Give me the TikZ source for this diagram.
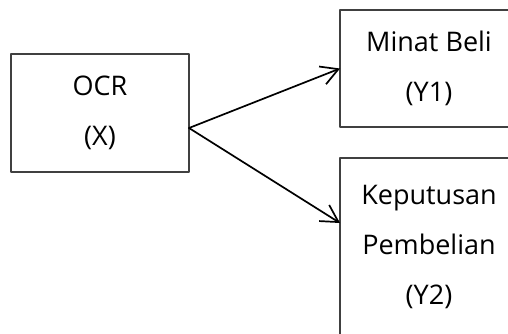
\documentclass[tikz,border=0pt]{standalone}
\usepackage{fontspec}
\setmainfont{Open Sans}
\usetikzlibrary{arrows.meta}
\begin{document}
\begin{tikzpicture}[x=1pt, y=-1pt, line join=round, line cap=round,
	varbox/.style={draw=black!75, line width=1.3pt, minimum width=178pt, align=center,
		inner sep=0pt, outer sep=0pt, font=\fontsize{27}{50}\selectfont,
		execute at begin node=\rule{0pt}{28pt}},
	link/.style={-{Straight Barb[length=17pt,width=19pt]}, line width=1.7pt}]
	\path[use as bounding box, clip] (0,0) rectangle (508,333);
	\node[varbox, minimum height=118pt] (ocr) at (100,113) {OCR\\(X)};
	\node[varbox, minimum height=117pt] (minat) at (429,68.5) {Minat Beli\\(Y1)};
	\node[varbox, minimum height=178pt] (keputusan) at (429,247) {Keputusan\\Pembelian\\(Y2)};
	\draw[link] ([yshift=-15pt]ocr.east) -- (minat.west);
	\draw[link] ([yshift=-15pt]ocr.east) -- ([yshift=24pt]keputusan.west);
\end{tikzpicture}
\end{document}
